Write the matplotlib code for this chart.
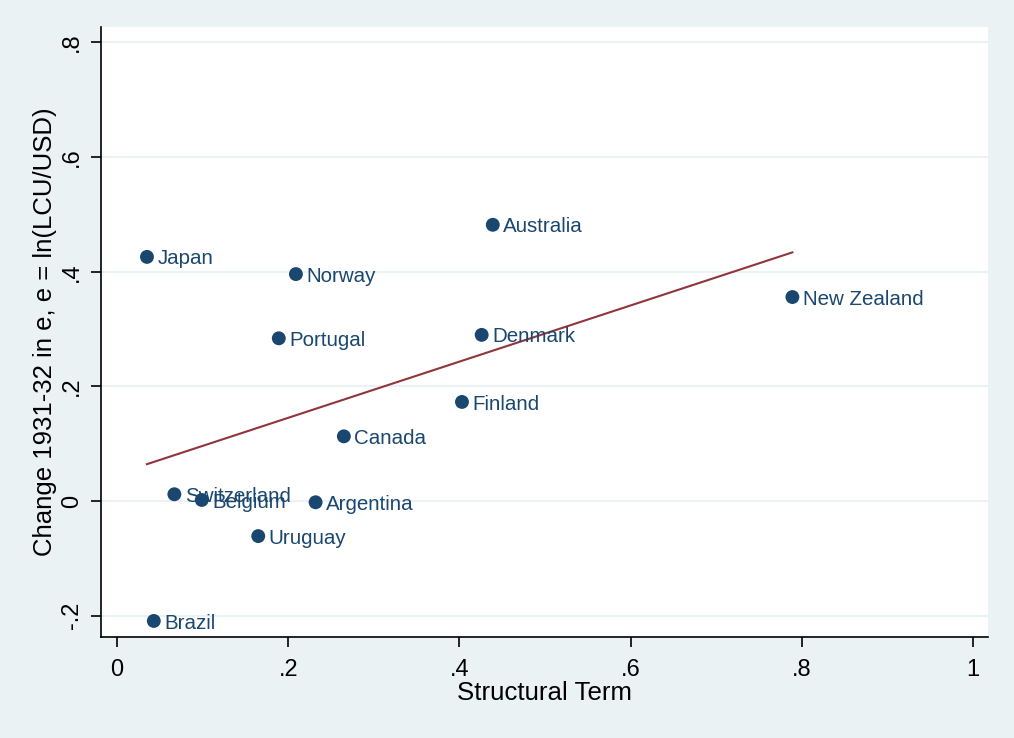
import numpy as np
import matplotlib.pyplot as plt

plt.rcParams['font.family'] = ['Liberation Sans', 'DejaVu Sans']

countries = ["Japan", "Australia", "Norway", "Portugal", "New Zealand", "Denmark",
             "Finland", "Canada", "Switzerland", "Belgium", "Argentina", "Uruguay", "Brazil"]
structural = [0.035, 0.439, 0.209, 0.189, 0.789, 0.426,
              0.403, 0.265, 0.067, 0.099, 0.232, 0.165, 0.043]
change_e = [0.426, 0.482, 0.396, 0.284, 0.356, 0.290,
            0.173, 0.113, 0.012, 0.002, -0.002, -0.061, -0.209]

bg = "#EAF2F3"
navy = "#1A476F"
maroon = "#90353B"

fig = plt.figure(figsize=(10.14, 7.38), dpi=100, facecolor=bg)
ax = fig.add_axes([101 / 1014, 1 - 637 / 738, 887 / 1014, 610 / 738])
ax.set_facecolor("white")

x = np.array(structural)
y = np.array(change_e)

# horizontal grid
for t in [-0.2, 0, 0.2, 0.4, 0.6, 0.8]:
    ax.axhline(t, color=bg, lw=1.5, zorder=0)

ax.scatter(x, y, s=100, color=navy, zorder=3, edgecolors="none")
for name, xi, yi in zip(countries, x, y):
    ax.annotate(name, (xi, yi), xytext=(7.5, -1.5), textcoords="offset points",
                va="center", ha="left", fontsize=14.8, color=navy, zorder=4)

# linear fit over the range of the data
b, a = np.polyfit(x, y, 1)
xs = np.array([x.min(), x.max()])
ax.plot(xs, a + b * xs, color=maroon, lw=1.5, zorder=2)

ax.set_xlim(-0.0187, 1.0175)
ax.set_ylim(-0.237, 0.827)
ax.set_xticks([0, 0.2, 0.4, 0.6, 0.8, 1])
ax.set_xticklabels(["0", ".2", ".4", ".6", ".8", "1"])
ax.set_yticks([-0.2, 0, 0.2, 0.4, 0.6, 0.8])
ax.set_yticklabels(["-.2", "0", ".2", ".4", ".6", ".8"], rotation=90, va="center")
ax.tick_params(labelsize=17, length=7, width=1.2, direction="out", pad=6)
ax.tick_params(axis="x", pad=9)

for s in ["top", "right"]:
    ax.spines[s].set_visible(False)
for s in ["left", "bottom"]:
    ax.spines[s].set_linewidth(1.2)

ax.set_xlabel("Structural Term", fontsize=18.6, labelpad=0)
ax.set_ylabel("Change 1931-32 in e, e = ln(LCU/USD)", fontsize=18.5, labelpad=3)

fig.savefig("out.png", dpi=100, facecolor=bg)
